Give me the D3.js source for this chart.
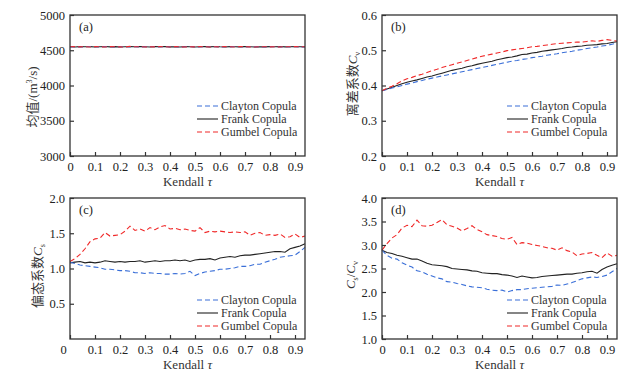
<!DOCTYPE html>
<html><head><meta charset="utf-8">
<script src="https://cdn.jsdelivr.net/npm/d3@7"></script>
<style>body{margin:0;background:#fff}</style>
</head><body><svg id="c" width="640" height="375"></svg>
<script>
const tau = [0,0.02,0.04,0.06,0.08,0.10,0.12,0.14,0.16,0.18,0.20,0.22,0.24,0.26,0.28,0.30,0.32,0.34,0.36,0.38,0.40,0.42,0.44,0.46,0.48,0.50,0.52,0.54,0.56,0.58,0.60,0.62,0.64,0.66,0.68,0.70,0.72,0.74,0.76,0.78,0.80,0.82,0.84,0.86,0.88,0.90,0.92,0.94];
const seriesNames = ["Clayton Copula","Frank Copula","Gumbel Copula"];
const xTicks = [0,0.1,0.2,0.3,0.4,0.5,0.6,0.7,0.8,0.9];

// (a) mean
const meanClayton = [4548,4551,4546,4550,4553,4549,4547,4552,4550,4545,4549,4553,4548,4551,4547,4550,4554,4549,4546,4551,4548,4552,4547,4550,4553,4548,4546,4551,4549,4552,4547,4550,4548,4553,4549,4546,4551,4548,4550,4547,4552,4549,4546,4550,4548,4551,4547,4549];
const meanFrank   = [4550,4547,4552,4549,4551,4546,4550,4553,4548,4551,4547,4550,4552,4549,4554,4550,4547,4551,4549,4553,4548,4550,4547,4551,4549,4546,4550,4552,4548,4554,4549,4547,4551,4550,4548,4552,4549,4547,4550,4548,4551,4549,4553,4548,4550,4552,4549,4548];
const meanGumbel  = [4549,4552,4548,4550,4546,4551,4549,4547,4552,4550,4548,4546,4555,4549,4551,4547,4550,4548,4552,4549,4547,4551,4549,4546,4550,4548,4552,4549,4547,4550,4548,4551,4549,4547,4552,4550,4548,4546,4551,4549,4548,4550,4547,4551,4549,4552,4548,4550];
const meanTicks = [3000,3500,4000,4500,5000];

// (b) Cv
const cvClayton = [0.385,0.389,0.393,0.396,0.400,0.404,0.407,0.411,0.414,0.418,0.421,0.424,0.427,0.430,0.433,0.436,0.439,0.442,0.445,0.448,0.451,0.454,0.457,0.460,0.463,0.466,0.469,0.471,0.474,0.476,0.479,0.481,0.483,0.486,0.488,0.490,0.493,0.495,0.497,0.500,0.502,0.505,0.507,0.509,0.512,0.514,0.517,0.520];
const cvFrank   = [0.385,0.390,0.395,0.400,0.405,0.409,0.413,0.416,0.420,0.424,0.427,0.431,0.435,0.439,0.443,0.446,0.449,0.453,0.456,0.460,0.463,0.466,0.469,0.473,0.476,0.479,0.481,0.484,0.488,0.489,0.492,0.494,0.497,0.499,0.501,0.503,0.505,0.508,0.509,0.511,0.512,0.514,0.515,0.516,0.518,0.519,0.522,0.524];
const cvGumbel  = [0.385,0.392,0.398,0.405,0.413,0.419,0.423,0.428,0.432,0.437,0.442,0.446,0.451,0.455,0.459,0.463,0.467,0.471,0.475,0.479,0.483,0.486,0.489,0.492,0.495,0.499,0.501,0.503,0.505,0.507,0.510,0.511,0.513,0.515,0.517,0.519,0.520,0.521,0.522,0.523,0.523,0.525,0.527,0.525,0.528,0.530,0.528,0.526];
const cvTicks = [0.2,0.3,0.4,0.5,0.6];

// (c) Cs
const csClayton = [1.09,1.07,1.05,1.04,1.03,1.02,1.01,0.99,0.99,0.98,0.97,0.97,0.96,0.94,0.94,0.93,0.94,0.93,0.93,0.92,0.92,0.93,0.92,0.93,0.96,0.90,0.93,0.95,0.96,0.97,0.99,0.99,1.00,1.01,1.03,1.03,1.04,1.06,1.06,1.09,1.11,1.13,1.16,1.17,1.18,1.19,1.24,1.30];
const csFrank   = [1.08,1.09,1.10,1.08,1.09,1.08,1.09,1.11,1.10,1.09,1.10,1.09,1.10,1.10,1.11,1.09,1.10,1.11,1.10,1.11,1.11,1.12,1.11,1.12,1.10,1.12,1.13,1.13,1.14,1.12,1.15,1.16,1.17,1.16,1.18,1.19,1.19,1.20,1.21,1.22,1.23,1.24,1.24,1.23,1.28,1.30,1.32,1.35];
const csGumbel  = [1.10,1.14,1.20,1.28,1.38,1.42,1.43,1.51,1.46,1.47,1.48,1.53,1.60,1.54,1.56,1.53,1.58,1.55,1.59,1.61,1.56,1.57,1.55,1.56,1.54,1.53,1.58,1.51,1.53,1.52,1.53,1.52,1.51,1.52,1.51,1.52,1.47,1.50,1.51,1.47,1.48,1.47,1.49,1.44,1.45,1.49,1.44,1.46];
const csTicks = [0.5,1.0,1.5,2.0];

// (d) Cs/Cv
const ratioClayton = [2.89,2.78,2.72,2.70,2.62,2.57,2.53,2.45,2.43,2.38,2.34,2.30,2.28,2.22,2.21,2.18,2.16,2.13,2.11,2.10,2.09,2.06,2.04,2.03,2.04,2.00,2.03,2.05,2.05,2.07,2.08,2.09,2.10,2.11,2.12,2.15,2.14,2.17,2.20,2.24,2.28,2.30,2.32,2.31,2.33,2.36,2.43,2.50];
const ratioFrank   = [2.89,2.84,2.82,2.78,2.76,2.73,2.70,2.70,2.66,2.61,2.58,2.57,2.56,2.54,2.50,2.49,2.48,2.47,2.45,2.44,2.41,2.40,2.39,2.39,2.37,2.36,2.34,2.31,2.34,2.32,2.30,2.31,2.33,2.34,2.35,2.36,2.37,2.38,2.38,2.40,2.41,2.43,2.44,2.40,2.48,2.53,2.57,2.60];
const ratioGumbel  = [2.89,3.03,3.15,3.22,3.36,3.42,3.39,3.53,3.41,3.40,3.42,3.48,3.54,3.43,3.40,3.36,3.30,3.35,3.41,3.33,3.28,3.22,3.20,3.18,3.14,3.12,3.16,3.01,3.05,3.04,3.01,2.99,2.97,2.94,2.93,2.89,2.94,2.88,2.85,2.77,2.81,2.82,2.84,2.78,2.73,2.83,2.76,2.78];
const ratioTicks = [1.0,1.5,2.0,2.5,3.0,3.5,4.0];

const colors = ["#3a6fd8","#222222","#f02828"];
const dashes = ["5,3",null,"5,3"];
const svg = d3.select("#c");
const serif = "Liberation Serif, Times New Roman, serif";
const cjk = "Noto Sans CJK SC, sans-serif";

const panels = [
  {tag:"(a)", left:70, top:15, yDom:[3000,5000], yTicks:meanTicks, fmt:d3.format("d"), data:[meanClayton,meanFrank,meanGumbel], ylab:"a", ylx:32, yly:97},
  {tag:"(b)", left:382, top:15, yDom:[0.2,0.6], yTicks:cvTicks, fmt:d3.format(".1f"), data:[cvClayton,cvFrank,cvGumbel], ylab:"b", ylx:352, yly:84},
  {tag:"(c)", left:70, top:198, yDom:[0,2], yTicks:csTicks, fmt:d3.format(".1f"), data:[csClayton,csFrank,csGumbel], ylab:"c", ylx:37, yly:276},
  {tag:"(d)", left:382, top:198, yDom:[1,4], yTicks:ratioTicks, fmt:d3.format(".1f"), data:[ratioClayton,ratioFrank,ratioGumbel], ylab:"d", ylx:350, yly:275}
];
const W = 235, H = 141;

panels.forEach((p, pi) => {
  const g = svg.append("g").attr("transform", `translate(${p.left},${p.top})`);
  const x = d3.scaleLinear().domain([0,0.94]).range([0,W]);
  const y = d3.scaleLinear().domain(p.yDom).range([H,0]);

  const line = d3.line().x((d,i)=>x(tau[i])).y(d=>y(d));
  [1,0,2].forEach(si => {
    g.append("path").datum(p.data[si]).attr("d", line)
      .attr("fill","none").attr("stroke",colors[si]).attr("stroke-width",1.1)
      .attr("stroke-dasharray",dashes[si]);
  });

  const xa = d3.axisBottom(x).tickValues(xTicks).tickSize(-4).tickPadding(6)
    .tickFormat(d => d===0 ? "0" : d3.format(".1f")(d));
  const gx = g.append("g").attr("transform",`translate(0,${H})`).call(xa);
  const ya = d3.axisLeft(y).tickValues(p.yTicks).tickSize(-4).tickPadding(5).tickFormat(p.fmt);
  const gy = g.append("g").call(ya);
  [gx,gy].forEach(ax => {
    ax.select(".domain").remove();
    ax.selectAll("line").attr("stroke","#333").attr("stroke-width",1.2);
    ax.selectAll("text").attr("font-family",serif).attr("font-size",12.5).attr("fill","#222");
  });
  if (pi === 2) gx.selectAll("text").filter(d=>d===0).attr("dx",-7);
  g.append("rect").attr("width",W).attr("height",H).attr("fill","none")
    .attr("stroke","#333").attr("stroke-width",1.3);

  g.append("text").attr("x",9).attr("y",16).text(p.tag)
    .attr("font-family",serif).attr("font-size",12.5).attr("fill","#222");

  const xl = svg.append("text").attr("x",p.left+W/2).attr("y",p.top+H+30)
    .attr("text-anchor","middle").attr("font-family",serif).attr("font-size",13).attr("fill","#333");
  xl.append("tspan").text("Kendall ");
  xl.append("tspan").attr("font-style","italic").text("τ");

  const yl = svg.append("text").attr("transform",`translate(${p.ylx},${p.yly}) rotate(-90)`)
    .attr("text-anchor","middle").attr("font-size",13).attr("fill","#333").attr("dy","0.35em");
  if (p.ylab==="a") {
    yl.append("tspan").attr("font-family",cjk).text("均值");
    yl.append("tspan").attr("font-family",serif).text("/(m");
    yl.append("tspan").attr("font-family",serif).attr("font-size",8).attr("dy",-5).text("3");
    yl.append("tspan").attr("font-family",serif).attr("dy",5).text("/s)");
  } else if (p.ylab==="b" || p.ylab==="c") {
    yl.append("tspan").attr("font-family",cjk).text(p.ylab==="b" ? "离差系数" : "偏态系数");
    yl.append("tspan").attr("font-family",serif).attr("font-style","italic").text("C");
    yl.append("tspan").attr("font-family",serif).attr("font-size",8).attr("dy",3).text(p.ylab==="b"?"v":"s");
  } else {
    yl.append("tspan").attr("font-family",serif).attr("font-style","italic").text("C");
    yl.append("tspan").attr("font-family",serif).attr("font-size",8).attr("dy",3).text("s");
    yl.append("tspan").attr("font-family",serif).attr("dy",-3).text("/");
    yl.append("tspan").attr("font-family",serif).attr("font-style","italic").text("C");
    yl.append("tspan").attr("font-family",serif).attr("font-size",8).attr("dy",3).text("v");
  }

  const lx = (pi%2===0) ? 127 : 125;
  const ly = (pi<2) ? 91 : 102;
  seriesNames.forEach((nm, si) => {
    const yy = ly + si*13;
    g.append("line").attr("x1",lx).attr("x2",lx+21).attr("y1",yy).attr("y2",yy)
      .attr("stroke",colors[si]).attr("stroke-width",1.1).attr("stroke-dasharray",dashes[si]);
    g.append("text").attr("x",lx+24).attr("y",yy).attr("dy","0.35em").text(nm)
      .attr("font-family",serif).attr("font-size",12).attr("fill","#333");
  });
});
</script></body></html>
